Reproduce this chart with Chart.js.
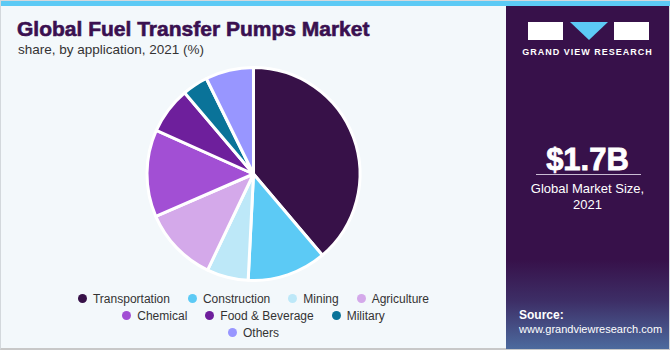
<!DOCTYPE html>
<html>
<head>
<meta charset="utf-8">
<script src="https://cdn.jsdelivr.net/npm/chart.js@4"></script>
<style>
    html, body { margin: 0; padding: 0; }
    body { width: 670px; height: 350px; overflow: hidden; font-family: "Liberation Sans", Arial, sans-serif; }
    #frame { position: relative; width: 670px; height: 350px; background: #f3f8fb; box-sizing: border-box; border: 1px solid #d3d8dc; border-bottom: 2px solid #c8c8c8; }
    #topbar { position: absolute; left: 0; top: 0; width: 670px; height: 5px; background: #5ccaf5; }
    #title { position: absolute; left: 16px; top: 16px; font-size: 21px; font-weight: bold; color: #3a1050; -webkit-text-stroke: 0.6px #3a1050; }
    #subtitle { position: absolute; left: 17px; top: 41px; font-size: 13.5px; color: #333; }
    #chartBox { position: absolute; left: 0; top: 65px; width: 505px; height: 216px; }
    #legend { position: absolute; left: 0; top: 289px; width: 505px; font-size: 12px; color: #333; }
    .row { display: flex; justify-content: center; height: 17px; align-items: center; }
    .item { display: flex; align-items: center; margin: 0 9px; }
    .dot { width: 9px; height: 9px; border-radius: 50%; margin-right: 6px; }
    #panel { position: absolute; left: 505px; top: 5px; width: 163px; height: 343px;
        background: linear-gradient(to bottom, #37114a 0%, #37114a 74%, #3d2e66 86%, #4c6a9e 100%); color: #fff; }
    .blk { position: absolute; top: 16px; height: 18px; background: #fff; }
    #tri { position: absolute; left: 64px; top: 16px; width: 0; height: 0;
        border-left: 19px solid transparent; border-right: 19px solid transparent; border-top: 18px solid #5ccaf5; }
    #brand { position: absolute; left: 0; width: 163px; top: 41px; text-align: center; font-size: 9px; font-weight: bold; letter-spacing: 1px; }
    #big { position: absolute; left: 0; width: 163px; top: 136px; text-align: center; font-size: 31px; font-weight: bold; -webkit-text-stroke: 0.8px #fff; }
    #rule { position: absolute; left: 30px; width: 105px; top: 168px; height: 1px; background: #c9bcd3; }
    #size { position: absolute; left: 0; width: 163px; top: 175px; text-align: center; font-size: 13px; line-height: 16px; }
    #src { position: absolute; left: 13px; top: 302px; font-size: 11px; line-height: 14px; }
    #src b { font-size: 12px; }
</style>
</head>
<body>
<div id="frame">
    <div id="topbar"></div>
    <div id="title">Global Fuel Transfer Pumps Market</div>
    <div id="subtitle">share, by application, 2021 (%)</div>
    <div id="chartBox"><canvas id="pieChart"></canvas></div>
    <div id="legend"></div>
    <div id="panel">
        <div class="blk" style="left:22px;width:35px;"></div>
        <div id="tri"></div>
        <div class="blk" style="left:108px;width:35px;"></div>
        <div id="brand">GRAND VIEW RESEARCH</div>
        <div id="big">$1.7B</div>
        <div id="rule"></div>
        <div id="size">Global Market Size,<br>2021</div>
        <div id="src"><b>Source:</b><br>www.grandviewresearch.com</div>
    </div>
</div>
<script>
// Chart data
const categories = ['Transportation', 'Construction', 'Mining', 'Agriculture', 'Chemical', 'Food & Beverage', 'Military', 'Others'];
const shares = [38.8, 12.0, 6.3, 11.4, 13.2, 7.1, 3.9, 7.3];
const colors = ['#371148', '#5ccaf5', '#bde8f8', '#d4a9ea', '#a24fd4', '#6e1f9c', '#0a7399', '#9896ff'];
const legendRows = [[0, 1, 2, 3], [4, 5, 6], [7]];

// Legend
const legend = document.getElementById('legend');
legendRows.forEach(row => {
    const div = document.createElement('div');
    div.className = 'row';
    div.innerHTML = row.map(i => `
        <div class="item"><span class="dot" style="background:${colors[i]}"></span>${categories[i]}</div>
    `).join('');
    legend.appendChild(div);
});

// Pie
const ctx = document.getElementById('pieChart').getContext('2d');
new Chart(ctx, {
    type: 'pie',
    data: {
        labels: categories,
        datasets: [{
            data: shares,
            backgroundColor: colors,
            borderColor: '#ffffff',
            borderWidth: 3
        }]
    },
    options: {
        responsive: true,
        maintainAspectRatio: false,
        animation: false,
        layout: { padding: 0 },
        plugins: {
            legend: { display: false },
            tooltip: { enabled: false }
        }
    }
});
</script>
</body>
</html>
